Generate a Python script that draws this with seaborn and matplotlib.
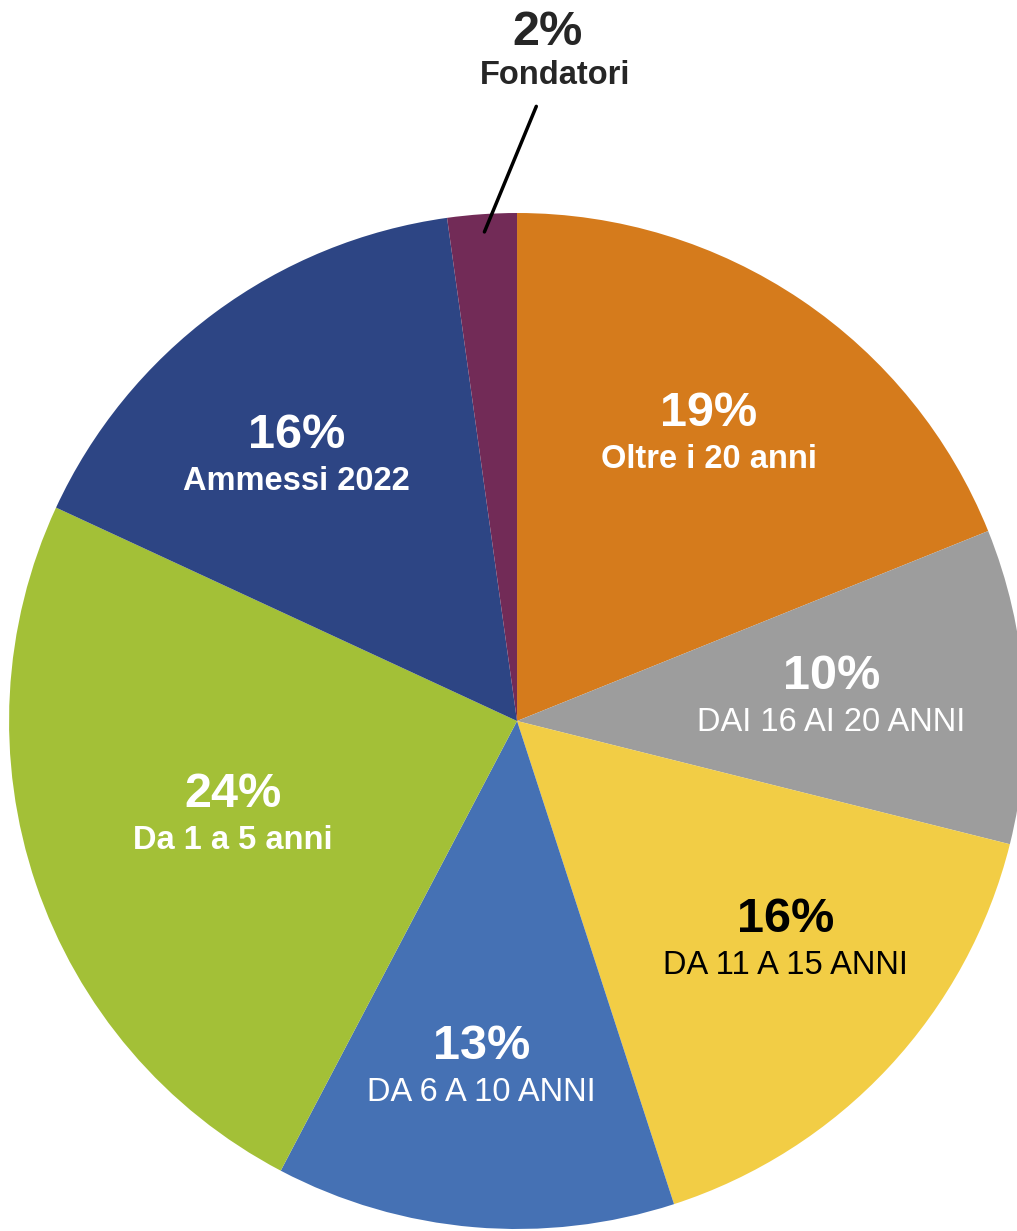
import numpy as np
import seaborn as sns
import matplotlib.pyplot as plt

# Data (clockwise from 12 o'clock)
labels = ['Oltre i 20 anni', 'DAI 16 AI 20 ANNI', 'DA 11 A 15 ANNI', 'DA 6 A 10 ANNI',
          'Da 1 a 5 anni', 'Ammessi 2022', 'Fondatori']
values = [18.9, 10.0, 16.1, 12.7, 24.2, 15.9, 2.2]
pct_text = ['19%', '10%', '16%', '13%', '24%', '16%', '2%']
colors = ['#D57B1C', '#9D9D9D', '#F2CD45', '#4571B4', '#A3C037', '#2D4584', '#722B57']

# label styles per slice
text_colors = ['white', 'white', 'black', 'white', 'white', 'white', '#262626']
sub_weights = ['bold', 'normal', 'normal', 'normal', 'bold', 'bold', 'bold']
label_dist = [0.675, 0.62, 0.685, 0.69, 0.59, 0.675, None]
angle_shift = [0, 0, 3.5, -1, 0, 3.5, 0]

sns.set_theme(style='white')
plt.rcParams['font.family'] = ['Liberation Sans', 'DejaVu Sans']

fig = plt.figure(figsize=(10.17, 12.31), dpi=100)
ax = fig.add_axes([0.0089, 0.0016, 0.999, 0.8254])

wedges, _ = ax.pie(values, colors=colors, startangle=90, counterclock=False,
                   radius=1.0, wedgeprops=dict(linewidth=0))
ax.set_xlim(-1, 1)
ax.set_ylim(-1, 1)
ax.set_aspect('equal')
ax.axis('off')

for w, pct, lab, tc, sw, d, sh in zip(wedges, pct_text, labels, text_colors,
                                      sub_weights, label_dist, angle_shift):
    theta = np.deg2rad((w.theta1 + w.theta2) / 2 + sh)
    if d is None:
        # small slice: label outside with a leader line
        x0, y0 = 0.96 * np.cos(theta), 0.96 * np.sin(theta)
        ax.annotate('', xy=(x0, y0), xytext=(0.04, 1.215),
                    arrowprops=dict(arrowstyle='-', color='black', lw=2.5),
                    annotation_clip=False)
        ax.text(0.06, 1.355, pct, ha='center', va='center', fontsize=35,
                fontweight='bold', color=tc, clip_on=False)
        ax.text(0.075, 1.27, lab, ha='center', va='center', fontsize=23.5,
                fontweight=sw, color=tc, clip_on=False)
        continue
    x, y = d * np.cos(theta), d * np.sin(theta)
    ax.text(x, y + 0.045, pct, ha='center', va='center', fontsize=35,
            fontweight='bold', color=tc)
    ax.text(x, y - 0.045, lab, ha='center', va='center', fontsize=23.5,
            fontweight=sw, color=tc)

plt.savefig('out.png', dpi=100, facecolor='white')
